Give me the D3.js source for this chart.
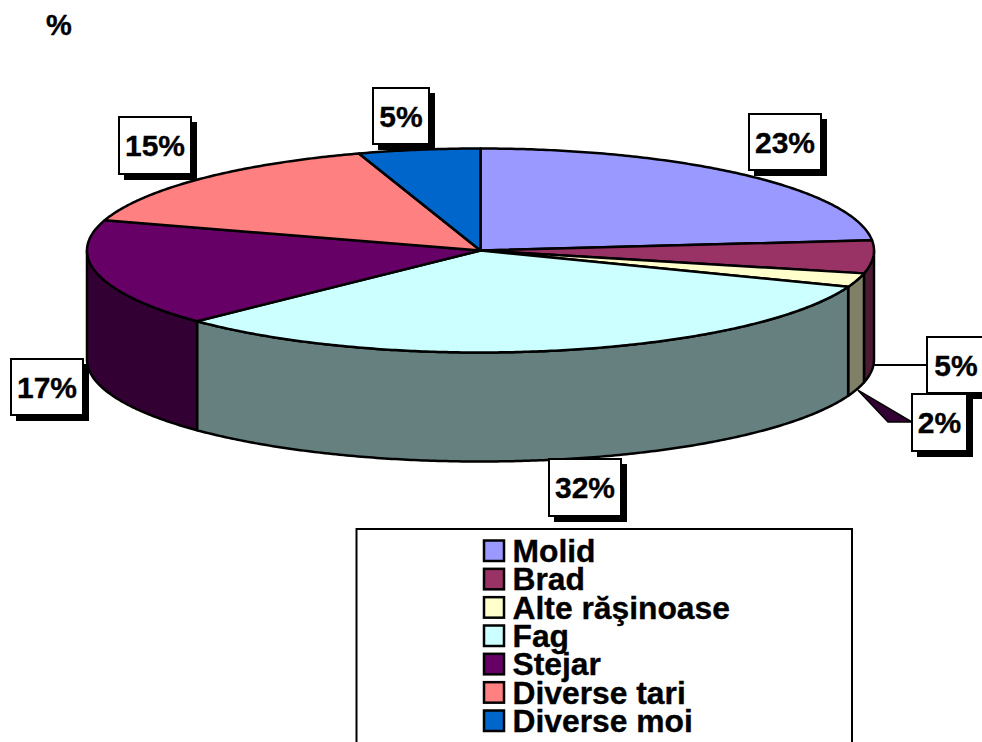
<!DOCTYPE html>
<html>
<head>
<meta charset="utf-8">
<script src="https://cdn.jsdelivr.net/npm/d3@7/dist/d3.min.js"></script>
<style>
html,body{margin:0;padding:0;background:#fff;overflow:hidden}
svg{display:block}
text{font-family:"Liberation Sans",Arial,sans-serif;font-weight:bold;fill:#000;stroke:#000;stroke-width:0.35px}
</style>
</head>
<body>
<svg id="chart" width="982" height="742"></svg>
<script>
const categories = ["Molid","Brad","Alte răşinoase","Fag","Stejar","Diverse tari","Diverse moi"];
const values = [23.4,5.2,2.2,32.0,17.0,15.2,5.0];
const labels = ["23%","5%","2%","32%","17%","15%","5%"];
const topColors = ["#9999FF","#993366","#FFFFCC","#CCFFFF","#660066","#FF8080","#0066CC"];
const sideColors = ["#4D4D80","#4D1A33","#808066","#668080","#330033","#804040","#003366"];

const svg = d3.select("#chart");
const cx = 480.5, cy = 250.5, rx = 393.5, ry = 102, depth = 109;
const sx = d3.scaleLinear().domain([-1,1]).range([cx-rx,cx+rx]);
const sy = d3.scaleLinear().domain([-1,1]).range([cy-ry,cy+ry]);
const pt = (a,dy=0)=>[sx(Math.sin(a)), sy(-Math.cos(a))+dy];
const arcPts = (a0,a1,dy=0)=>{
  const n = Math.max(2,Math.ceil(Math.abs(a1-a0)/0.01));
  return d3.range(n+1).map(i=>pt(a0+(a1-a0)*i/n,dy));
};
const line = d3.line();
const slices = d3.pie().sort(null).value(d=>d)(values);
const PI = Math.PI;

// title
svg.append("text").attr("x",46).attr("y",35).attr("font-size",29).text("%");

// leader lines
const pBrad = pt(PI/2,depth);
svg.append("path").attr("d",line([[pBrad[0],365],[930,365]]))
  .attr("stroke","#000").attr("stroke-width",2).attr("fill","none");
const aAlte = (slices[2].startAngle+slices[2].endAngle)/2;
const pAlte = pt(aAlte,depth);
svg.append("path").attr("d",line([[pAlte[0]+1,pAlte[1]+1],[888,422],[912,422]])+"Z")
  .attr("fill","#330033").attr("stroke","#000").attr("stroke-width",1.5).attr("stroke-linejoin","miter");

// side walls
slices.forEach((s,i)=>{
  const a0 = Math.max(s.startAngle,PI/2), a1 = Math.min(s.endAngle,3*PI/2);
  if(a1<=a0) return;
  const pts = arcPts(a0,a1).concat(arcPts(a1,a0,depth));
  svg.append("path").attr("d",line(pts)+"Z")
    .attr("fill",sideColors[i]).attr("stroke","#000").attr("stroke-width",2.5).attr("stroke-linejoin","round");
});

// top faces
slices.forEach((s,i)=>{
  const pts = [[cx,cy]].concat(arcPts(s.startAngle,s.endAngle));
  svg.append("path").attr("d",line(pts)+"Z")
    .attr("fill",topColors[i]).attr("stroke","#000").attr("stroke-width",2.5).attr("stroke-linejoin","round");
});

// value labels
const boxes = [[749,114,72,56],[927,337,60,56],[912,394,55,57],[549,459,72,57],[11,359,72,56],[119,117,72,57],[373,88,56,56]];
labels.forEach((t,i)=>{
  const [x,y,w,h] = boxes[i];
  const g = svg.append("g");
  g.append("rect").attr("x",x+5).attr("y",y+5).attr("width",w+1).attr("height",h+1).attr("fill","#000");
  g.append("rect").attr("x",x).attr("y",y).attr("width",w).attr("height",h)
    .attr("fill","#fff").attr("stroke","#000").attr("stroke-width",2);
  g.append("text").attr("x",i===1?x+29:x+w/2).attr("y",y+h/2+10.5).attr("text-anchor","middle").attr("font-size",30).text(t);
});

// legend
svg.append("rect").attr("x",356.5).attr("y",529).attr("width",495.5).attr("height",260)
  .attr("fill","#fff").attr("stroke","#000").attr("stroke-width",2);
const ly = d3.scalePoint().domain(categories).range([551,721]);
categories.forEach((c,i)=>{
  svg.append("rect").attr("x",484).attr("y",ly(c)-10.5).attr("width",20).attr("height",20.5)
    .attr("fill",topColors[i]).attr("stroke","#000").attr("stroke-width",2.5);
  svg.append("text").attr("x",512.5).attr("y",ly(c)+11).attr("font-size",31.8).text(c);
});
</script>
</body>
</html>
